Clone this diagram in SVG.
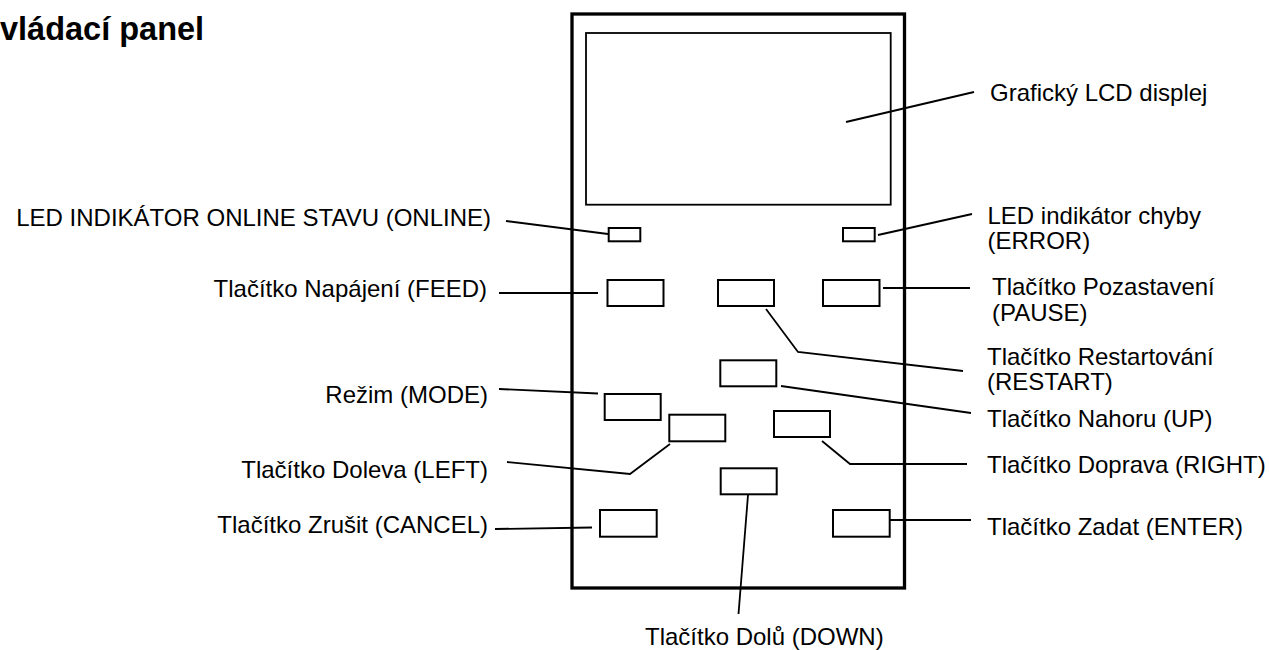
<svg xmlns="http://www.w3.org/2000/svg" width="1269" height="650" viewBox="0 0 1269 650">
<style>
text{font-family:"Liberation Sans",Arial,sans-serif;font-size:24px;fill:#000}
.title{font-size:32.5px;font-weight:bold}
.l{text-anchor:end}
.frame{fill:none;stroke:#000;stroke-width:3.3}
.lcd{fill:none;stroke:#000;stroke-width:1.8}
.btn{fill:#fff;stroke:#000;stroke-width:2}
.ld{fill:none;stroke:#000;stroke-width:1.8}
</style>
<rect width="1269" height="650" fill="#fff"/>
<text id="title" class="title" x="0" y="40">vládací panel</text>
<g id="panel"><rect class="frame" x="572" y="14" width="332.5" height="574"/></g>
<g id="connectors">
<line class="ld" x1="846" y1="122" x2="974" y2="92"/>
<line class="ld" x1="878" y1="235" x2="972" y2="214"/>
<line class="ld" x1="506" y1="221" x2="608" y2="234"/>
<line class="ld" x1="499" y1="293" x2="598" y2="293"/>
<line class="ld" x1="883" y1="288" x2="970" y2="288"/>
<polyline class="ld" points="766,309 798,352 963,371"/>
<line class="ld" x1="781" y1="386" x2="971" y2="413"/>
<line class="ld" x1="499" y1="389" x2="598" y2="393.5"/>
<polyline class="ld" points="507,462 630,474 670,444"/>
<polyline class="ld" points="822,441 850,464 967,464"/>
<line class="ld" x1="495" y1="529" x2="592" y2="527.5"/>
<line class="ld" x1="890" y1="520" x2="971" y2="520"/>
<line class="ld" x1="748" y1="495" x2="738.5" y2="614"/>
</g>
<g id="lcd"><rect class="lcd" x="586" y="33" width="304.7" height="171.7"/><text x="990" y="101">Grafický LCD displej</text></g>
<g id="led-online"><rect class="btn" x="608.7" y="228" width="31.6" height="13.3"/><text class="l" x="491" y="226">LED INDIKÁTOR ONLINE STAVU (ONLINE)</text></g>
<g id="led-error"><rect class="btn" x="843" y="228" width="31.7" height="13.3"/><text x="987.5" y="224">LED indikátor chyby</text><text x="987.5" y="249">(ERROR)</text></g>
<g id="btn-feed"><rect class="btn" x="607.5" y="280" width="56" height="26"/><text class="l" x="487" y="297">Tlačítko Napájení (FEED)</text></g>
<g id="btn-restart"><rect class="btn" x="718" y="280" width="56" height="26"/><text x="987" y="365">Tlačítko Restartování</text><text x="987" y="390">(RESTART)</text></g>
<g id="btn-pause"><rect class="btn" x="823" y="280" width="56.5" height="26"/><text x="992" y="295">Tlačítko Pozastavení</text><text x="992" y="321">(PAUSE)</text></g>
<g id="btn-up"><rect class="btn" x="720.3" y="360.3" width="56" height="26"/><text x="987" y="427">Tlačítko Nahoru (UP)</text></g>
<g id="btn-mode"><rect class="btn" x="604.7" y="394" width="56" height="26"/><text class="l" x="488" y="403">Režim (MODE)</text></g>
<g id="btn-left"><rect class="btn" x="669.3" y="414.7" width="56" height="26.6"/><text class="l" x="488" y="478">Tlačítko Doleva (LEFT)</text></g>
<g id="btn-right"><rect class="btn" x="774" y="411" width="56" height="26"/><text x="987" y="473">Tlačítko Doprava (RIGHT)</text></g>
<g id="btn-down"><rect class="btn" x="720.7" y="468.3" width="56" height="26"/><text x="645" y="645">Tlačítko Dolů (DOWN)</text></g>
<g id="btn-cancel"><rect class="btn" x="600" y="510" width="56.7" height="26.7"/><text class="l" x="488" y="533">Tlačítko Zrušit (CANCEL)</text></g>
<g id="btn-enter"><rect class="btn" x="833" y="510" width="56.7" height="26.7"/><text x="987" y="535">Tlačítko Zadat (ENTER)</text></g>
</svg>
